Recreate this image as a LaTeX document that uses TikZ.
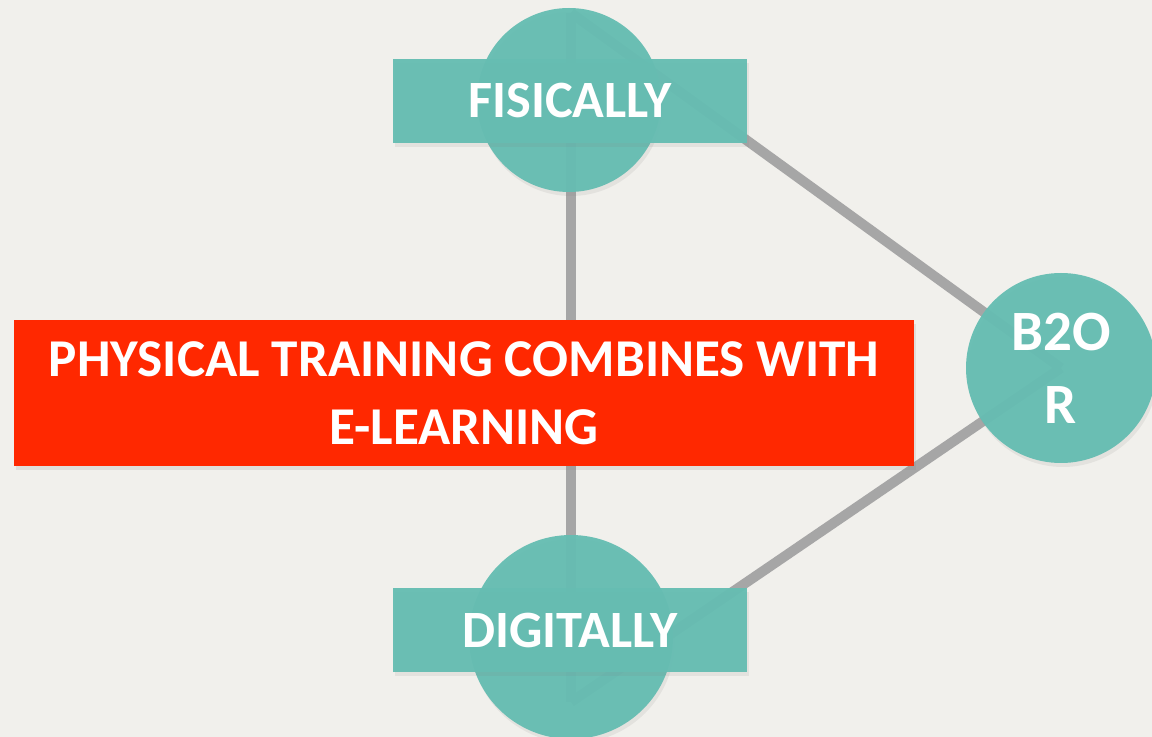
\documentclass[tikz,border=0pt]{standalone}
\usepackage{fontspec}
\setmainfont{Carlito}
\usetikzlibrary{backgrounds,shadows}
\definecolor{paper}{HTML}{F1F0EC}
\definecolor{teal}{HTML}{66BDB2}
\definecolor{redbox}{HTML}{FF2800}
\definecolor{wire}{HTML}{A6A6A6}

\begin{document}
\begin{tikzpicture}[line cap=round,line join=round,x=0.5pt,y=-0.5pt,
    disc/.style={circle,fill=teal,fill opacity=0.96,text opacity=1,inner sep=0pt,
        drop shadow={opacity=0.12,shadow xshift=1pt,shadow yshift=-2pt}},
    tag/.style={rectangle,fill=teal,fill opacity=0.96,text opacity=1,inner sep=0pt,
        minimum width=177pt,minimum height=42pt,text=white,font=\bfseries\fontsize{26.2}{30}\selectfont,
        drop shadow={opacity=0.12,shadow xshift=1pt,shadow yshift=-2pt}},
    wireline/.style={wire,line width=5pt,line cap=butt}]
    \useasboundingbox (0,0) rectangle (1152,737);

    % Circles and labels
    \node[disc,minimum size=92pt] (fis) at (569,100) {};
    \node[tag] (fistag) at (570,101) {FISICALLY};
    \node[disc,minimum size=102pt] (dig) at (571,637) {};
    \node[tag] (digtag) at (570,630) {DIGITALLY};
    \node[disc,minimum size=95pt,text=white,align=center,
        font=\bfseries\fontsize{28.5}{36.5}\selectfont] (b2or) at (1061,368) {B2O\\R};
    \node[rectangle,fill=redbox,inner sep=0pt,minimum width=450pt,minimum height=73pt,
        text=white,align=center,font=\bfseries\fontsize{26.6}{34}\selectfont,
        drop shadow={opacity=0.15,shadow xshift=1pt,shadow yshift=-2pt}] (combo) at (464,393)
        {PHYSICAL TRAINING COMBINES WITH\\E-LEARNING};

    % Connectors
    \coordinate (fpeak) at (571,13);
    \coordinate (dfoot) at (571,702);
    \begin{scope}[on background layer]
        \fill[paper] (0,0) rectangle (1152,737);
        \foreach \source/\target in {fpeak/dfoot, fpeak/b2or.center, b2or.center/dfoot} {
                \draw[wireline] (\source) -- (\target);
            }
    \end{scope}
\end{tikzpicture}
\end{document}
